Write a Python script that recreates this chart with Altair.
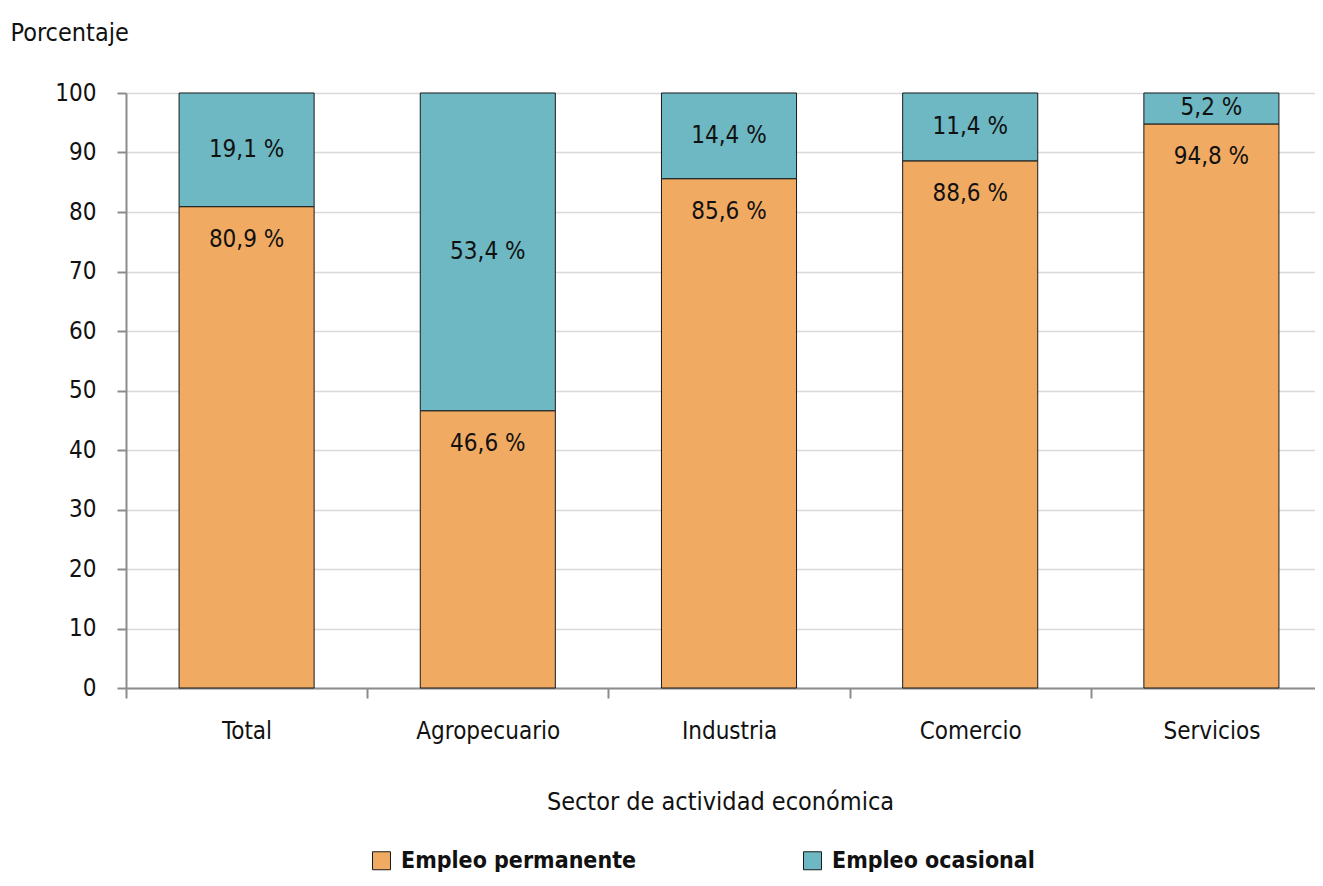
import altair as alt
import pandas as pd

sectors = ["Total", "Agropecuario", "Industria", "Comercio", "Servicios"]
permanente = [80.9, 46.6, 85.6, 88.6, 94.8]
ocasional = [19.1, 53.4, 14.4, 11.4, 5.2]
series = ["Empleo permanente", "Empleo ocasional"]
colors = ["#F0AA62", "#6DB8C3"]
y_ticks = list(range(0, 101, 10))

FONT = "Liberation Sans Narrow, DejaVu Sans Condensed, sans-serif"

def fmt(v):
    return f"{v:.1f}".replace(".", ",") + " %"

rows = []
for s, p, o in zip(sectors, permanente, ocasional):
    rows.append({"sector": s, "serie": series[0], "ord": 0, "valor": p,
                 "ypos": p, "label": fmt(p)})
    rows.append({"sector": s, "serie": series[1], "ord": 1, "valor": o,
                 "ypos": p + o / 2, "label": fmt(o)})
df = pd.DataFrame(rows)

x_enc = alt.X("sector:N", sort=sectors,
              scale=alt.Scale(range=[0, 1206], paddingInner=0, paddingOuter=0),
              axis=alt.Axis(title="Sector de actividad económica", labelAngle=0,
                            tickBand="extent", labelFontSize=24, labelPadding=21,
                            tickSize=10, tickColor="#8c8c8c", domainColor="#8c8c8c",
                            tickWidth=2, domainWidth=2,
                            labelColor="#111111", titleColor="#111111",
                            titleFontSize=25, titleFontWeight="normal",
                            titleX=594, titleY=121, titleBaseline="alphabetic",
                            titleAnchor="middle", titleAlign="center"))

bars = alt.Chart(df).mark_bar(stroke="#1a1a1a", strokeWidth=1,
                              width=alt.RelativeBandSize(0.56)).encode(
    x=x_enc,
    y=alt.Y("valor:Q", stack="zero",
            scale=alt.Scale(domain=[0, 100], nice=False),
            axis=alt.Axis(values=y_ticks, title="Porcentaje", titleAngle=0,
                          titleAlign="left", titleX=-116, titleY=-53,
                          titleBaseline="alphabetic", titleFontSize=25,
                          titleFontWeight="normal", titleColor="#111111",
                          labelFontSize=24, labelPadding=21, labelColor="#111111",
                          tickSize=9, tickColor="#8c8c8c", tickWidth=2,
                          domainColor="#8c8c8c", domainWidth=2,
                          grid=True, gridColor="#d9d9d9", gridWidth=1.5)),
    color=alt.Color("serie:N", sort=series,
                    scale=alt.Scale(domain=series, range=colors),
                    legend=alt.Legend(title=None, orient="none", direction="horizontal",
                                      columns=2, legendX=244, legendY=756,
                                      symbolType="square", symbolSize=324,
                                      symbolStrokeColor="#1a1a1a", symbolStrokeWidth=1,
                                      labelFontSize=23, labelFontWeight="bold",
                                      labelColor="#111111", labelOffset=8,
                                      columnPadding=164, labelLimit=400)),
    order=alt.Order("ord:Q", sort="ascending"),
)

perm_text = alt.Chart(df[df["ord"] == 0]).mark_text(
    fontSize=24, dy=33, baseline="middle", color="#111111", font=FONT
).encode(x=alt.X("sector:N", sort=sectors), y=alt.Y("ypos:Q"), text="label:N")

occ_text = alt.Chart(df[df["ord"] == 1]).mark_text(
    fontSize=24, baseline="middle", color="#111111", font=FONT
).encode(x=alt.X("sector:N", sort=sectors), y=alt.Y("ypos:Q"), text="label:N")

chart = alt.layer(bars, perm_text, occ_text).properties(
    width=1189, height=595,
    autosize=alt.AutoSizeParams(type="none"),
    padding={"left": 118, "top": 85, "right": 0, "bottom": 184},
).configure(font=FONT).configure_view(stroke=None)

chart.save("out.html", embed_options={"renderer": "svg", "actions": False})
